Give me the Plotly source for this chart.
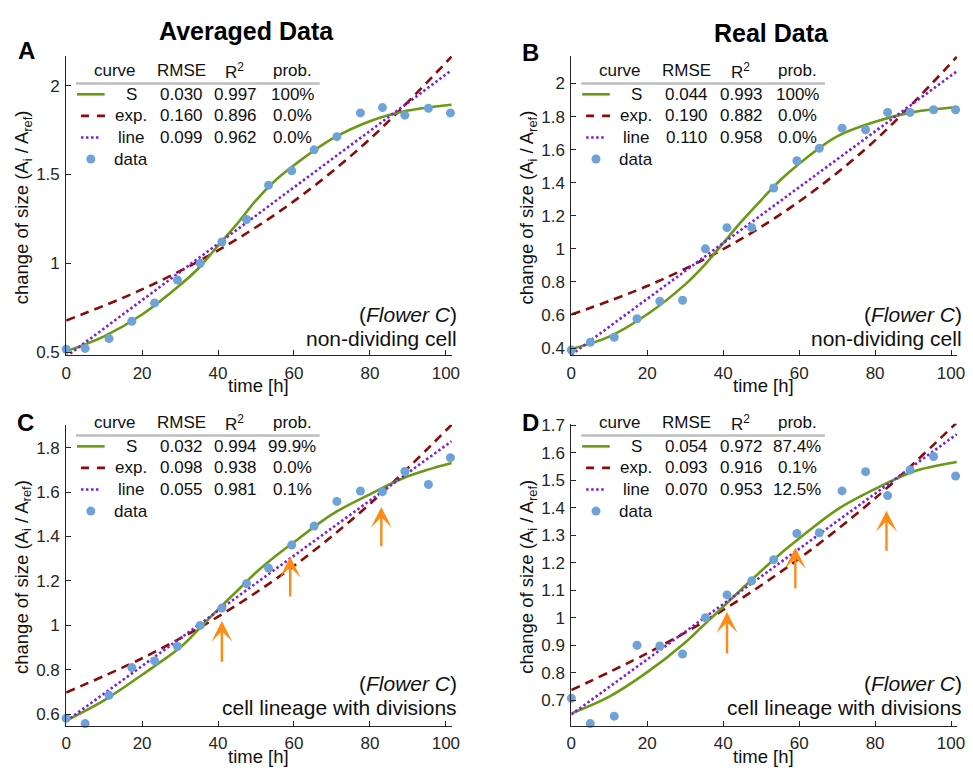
import plotly.graph_objects as go

W, H = 973, 774

# ---------------- data ----------------
time_h = [0, 5, 11.3, 17.3, 23.3, 29.3, 35.3, 41, 47.5, 53.3, 59.4, 65.3, 71.3, 77.5, 83.3, 89.2, 95.4, 101.2]

data_A = [0.516, 0.521, 0.576, 0.674, 0.777, 0.906, 1.0, 1.12, 1.247, 1.44, 1.521, 1.639, 1.713, 1.847, 1.877, 1.834, 1.873, 1.847]
data_B = [0.388, 0.435, 0.465, 0.577, 0.683, 0.689, 1.0, 1.128, 1.128, 1.368, 1.533, 1.608, 1.730, 1.720, 1.825, 1.825, 1.841, 1.841]
data_C = [0.582, 0.558, 0.685, 0.81, 0.84, 0.905, 1.0, 1.078, 1.188, 1.258, 1.362, 1.447, 1.558, 1.605, 1.602, 1.693, 1.634, 1.755]
data_D = [0.707, 0.615, 0.642, 0.90, 0.897, 0.868, 1.0, 1.083, 1.134, 1.211, 1.306, 1.309, 1.461, 1.531, 1.444, 1.537, 1.586, 1.515]

# fitted curves
fit_t = [0, 10, 20, 30, 35, 40, 45, 50, 55, 60, 70, 80, 90, 101.5]
S_A = [0.505, 0.589, 0.712, 0.878, 0.975, 1.10, 1.222, 1.355, 1.465, 1.552, 1.70, 1.80, 1.86, 1.893]
S_B = [0.394, 0.469, 0.604, 0.785, 0.90, 1.035, 1.17, 1.295, 1.415, 1.515, 1.68, 1.768, 1.827, 1.856]
S_C = [0.572, 0.663, 0.778, 0.9, 0.985, 1.072, 1.155, 1.238, 1.31, 1.375, 1.50, 1.59, 1.671, 1.731]
S_D = [0.652, 0.713, 0.802, 0.91, 0.975, 1.04, 1.106, 1.17, 1.232, 1.288, 1.393, 1.468, 1.531, 1.566]

exp_t = [0, 20, 40, 60, 80, 101.5]
exp_A = [0.678, 0.853, 1.073, 1.35, 1.70, 2.164]
exp_B = [0.602, 0.775, 0.998, 1.286, 1.656, 2.161]
exp_C = [0.698, 0.852, 1.039, 1.268, 1.547, 1.903]
exp_D = [0.737, 0.871, 1.028, 1.215, 1.434, 1.709]

line_t = [0, 101.5]
line_A = [0.475, 2.087]
line_B = [0.36, 2.073]
line_C = [0.569, 1.829]
line_D = [0.648, 1.667]

# division arrows (tail -> tip)
arrow_t = [41, 59, 83]
arrow_tail_C = [0.83, 1.123, 1.349]
arrow_tip_C = [1.02, 1.309, 1.533]
arrow_tail_D = [0.864, 1.102, 1.238]
arrow_tip_D = [1.021, 1.255, 1.389]

# table values
rows = ["S", "exp.", "line", "data"]
stats_A = [["0.030", "0.997", "100%"], ["0.160", "0.896", "0.0%"], ["0.099", "0.962", "0.0%"]]
stats_B = [["0.044", "0.993", "100%"], ["0.190", "0.882", "0.0%"], ["0.110", "0.958", "0.0%"]]
stats_C = [["0.032", "0.994", "99.9%"], ["0.098", "0.938", "0.0%"], ["0.055", "0.981", "0.1%"]]
stats_D = [["0.054", "0.972", "87.4%"], ["0.093", "0.916", "0.1%"], ["0.070", "0.953", "12.5%"]]

yticks_A = [0.5, 1, 1.5, 2]
yticks_B = [0.4, 0.6, 0.8, 1, 1.2, 1.4, 1.6, 1.8, 2]
yticks_C = [0.6, 0.8, 1, 1.2, 1.4, 1.6, 1.8]
yticks_D = [0.7, 0.8, 0.9, 1, 1.1, 1.2, 1.3, 1.4, 1.5, 1.6, 1.7]
xticks = [0, 20, 40, 60, 80, 100]

# ---------------- styling ----------------
GREEN = "#6a9a14"
RED = "#8b0a0a"
PURPLE = "#7a1ee0"
BLUE = "#6fa3d8"
ORANGE = "#ff8a14"
AXC = "#262626"
FONT = "Liberation Sans, Arial, sans-serif"

def px(x):
    return x / W

def py(y):
    return 1 - y / H

panels = [
    dict(key="", data=data_A, S=S_A, E=exp_A, L=line_A, stats=stats_A, yt=yticks_A,
         yr=[0.483, 2.167], left=62, right=453, top=49, bottom=354, sub="non-dividing cell"),
    dict(key="2", data=data_B, S=S_B, E=exp_B, L=line_B, stats=stats_B, yt=yticks_B,
         yr=[0.357, 2.166], left=574, right=965, top=49, bottom=354, sub="non-dividing cell"),
    dict(key="3", data=data_C, S=S_C, E=exp_C, L=line_C, stats=stats_C, yt=yticks_C,
         yr=[0.548, 1.903], left=62, right=453, top=425, bottom=732, sub="cell lineage with divisions"),
    dict(key="4", data=data_D, S=S_D, E=exp_D, L=line_D, stats=stats_D, yt=yticks_D,
         yr=[0.607, 1.705], left=574, right=965, top=424, bottom=732, sub="cell lineage with divisions"),
]

fig = go.Figure()
annotations = []
shapes = []
TXT = "#111"

for p in panels:
    k = p["key"]
    xa = "x" + k
    ya = "y" + k
    common = dict(xaxis=xa, yaxis=ya, showlegend=False, cliponaxis=False, hoverinfo="skip")
    fig.add_trace(go.Scatter(x=exp_t, y=p["E"], mode="lines", line=dict(color=RED, width=2.6, dash="9px,6px", shape="spline"), **common))
    fig.add_trace(go.Scatter(x=fit_t, y=p["S"], mode="lines", line=dict(color=GREEN, width=2.6, shape="spline", smoothing=1), **common))
    fig.add_trace(go.Scatter(x=line_t, y=p["L"], mode="lines", line=dict(color=PURPLE, width=2.6, dash="2.5px,2.5px"), **common))
    fig.add_trace(go.Scatter(x=time_h, y=p["data"], mode="markers", marker=dict(color=BLUE, size=9, line=dict(width=0)), **common))

    xname = "xaxis" + k
    yname = "yaxis" + k
    ax_common = dict(showline=True, linecolor=AXC, linewidth=1, ticks="inside", ticklen=5,
                     tickcolor=AXC, tickwidth=1, showgrid=False, zeroline=False,
                     tickfont=dict(family=FONT, size=17, color=AXC))
    fig.layout[xname] = dict(domain=[px(p["left"]), px(p["right"])], range=[0, 101.6],
                             anchor=ya, tickvals=xticks, ticktext=[str(v) for v in xticks],
                             ticklabelstandoff=2, **ax_common)
    fig.layout[yname] = dict(domain=[py(p["bottom"]), py(p["top"])], range=p["yr"],
                             anchor=xa, tickvals=p["yt"], ticktext=[("%g" % v) for v in p["yt"]],
                             ticklabelstandoff=2, **ax_common)

    L = p["left"]
    ybase = 77 if p["top"] < 100 else 436
    # table header
    for txt, cx in [("curve", 49), ("RMSE", 117), ("R<sup>2</sup>", 171), ("prob.", 229)]:
        annotations.append(dict(x=px(L + cx), y=py(ybase - 13), xref="paper", yref="paper",
                                text=txt, showarrow=False, xanchor="center", yanchor="middle",
                                font=dict(family=FONT, size=17, color=TXT)))
    shapes.append(dict(type="line", xref="paper", yref="paper", x0=px(L + 10), x1=px(L + 257),
                       y0=py(ybase), y1=py(ybase), line=dict(color="#bdbdbd", width=2.5)))
    row_off = [11, 33, 55, 77]
    for i, name in enumerate(rows):
        yy = ybase + row_off[i]
        annotations.append(dict(x=px(L + 66), y=py(yy), xref="paper", yref="paper",
                                text=name, showarrow=False, xanchor="center", yanchor="middle",
                                font=dict(family=FONT, size=17, color=TXT)))
        if i < 3:
            for j, cx in enumerate([117, 172, 229]):
                annotations.append(dict(x=px(L + cx), y=py(yy), xref="paper", yref="paper",
                                        text=p["stats"][i][j], showarrow=False, xanchor="center",
                                        yanchor="middle", font=dict(family=FONT, size=17, color=TXT)))
    # legend samples
    shapes.append(dict(type="line", xref="paper", yref="paper", x0=px(L + 11), x1=px(L + 39),
                       y0=py(ybase + row_off[0]), y1=py(ybase + row_off[0]), line=dict(color=GREEN, width=2.6)))
    shapes.append(dict(type="line", xref="paper", yref="paper", x0=px(L + 15), x1=px(L + 40),
                       y0=py(ybase + row_off[1]), y1=py(ybase + row_off[1]), line=dict(color=RED, width=2.6, dash="8px,8px")))
    shapes.append(dict(type="line", xref="paper", yref="paper", x0=px(L + 15), x1=px(L + 35),
                       y0=py(ybase + row_off[2]), y1=py(ybase + row_off[2]), line=dict(color=PURPLE, width=2.6, dash="2.5px,2.5px")))
    shapes.append(dict(type="circle", xref="paper", yref="paper", xsizemode="pixel", ysizemode="pixel",
                       xanchor=px(L + 25), yanchor=py(ybase + row_off[3]), x0=-4.5, x1=4.5, y0=-4.5, y1=4.5,
                       fillcolor=BLUE, line=dict(width=0)))

    # flower annotation
    ftop = 313 if p["top"] < 100 else 689
    annotations.append(dict(x=px(L + 398), y=py(ftop), xref="paper", yref="paper",
                            text="(<i>Flower C</i>)", showarrow=False, xanchor="right", yanchor="middle",
                            font=dict(family=FONT, size=21, color=TXT)))
    annotations.append(dict(x=px(L + 398), y=py(ftop + 24), xref="paper", yref="paper",
                            text=p["sub"], showarrow=False, xanchor="right", yanchor="middle",
                            font=dict(family=FONT, size=21, color=TXT)))

    # axis titles
    annotations.append(dict(x=px(L - 44), y=py((p["top"] + p["bottom"]) / 2 + 2), xref="paper", yref="paper",
                            text="change of size (A<sub>i</sub> / A<sub>ref</sub>)", textangle=-90,
                            showarrow=False, xanchor="center", yanchor="middle",
                            font=dict(family=FONT, size=18.5, color=TXT)))
    annotations.append(dict(x=px(L + 195), y=py(p["bottom"] + 31), xref="paper", yref="paper",
                            text="time [h]", showarrow=False, xanchor="center", yanchor="middle",
                            font=dict(family=FONT, size=18.5, color=TXT)))

# division arrows
for k, tails, tips in [("3", arrow_tail_C, arrow_tip_C), ("4", arrow_tail_D, arrow_tip_D)]:
    for t, tl, tp in zip(arrow_t, tails, tips):
        annotations.append(dict(x=t, y=tp, ax=t, ay=tl, xref="x" + k, yref="y" + k,
                                axref="x" + k, ayref="y" + k, text="", showarrow=True,
                                arrowhead=3, arrowsize=1.45, arrowwidth=2.4, arrowcolor=ORANGE,
                                standoff=0, startstandoff=0))

# titles and panel letters
for txt, x, y, size in [("Averaged Data", 245, 23, 25), ("Real Data", 777, 25, 25),
                        ("A", 22, 43, 24), ("B", 533, 45, 24), ("C", 21, 423, 24), ("D", 533, 423, 24)]:
    annotations.append(dict(x=px(x), y=py(y), xref="paper", yref="paper", text="<b>%s</b>" % txt,
                            showarrow=False, xanchor="center", yanchor="middle",
                            font=dict(family=FONT, size=size, color="#000")))

fig.update_layout(width=W, height=H, autosize=False, margin=dict(l=0, r=0, t=0, b=0),
                  paper_bgcolor="white", plot_bgcolor="white", annotations=annotations, shapes=shapes)

fig.write_html("out.html")
